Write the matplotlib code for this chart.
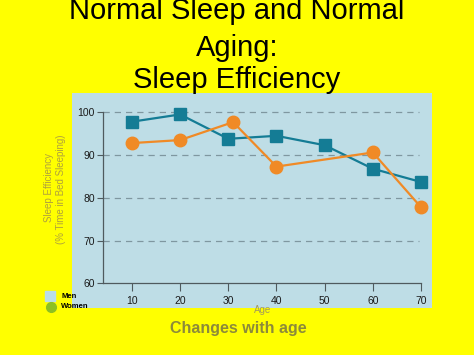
import matplotlib.pyplot as plt
from matplotlib.patches import Rectangle
from matplotlib.lines import Line2D

# Sleep efficiency (% time in bed sleeping) by age
men_age = [10, 20, 30, 40, 50, 60, 70]
men_eff = [97.8, 99.5, 93.8, 94.5, 92.3, 86.8, 83.7]
women_age = [10, 20, 31, 40, 60, 70]
women_eff = [92.8, 93.5, 97.7, 87.3, 90.6, 77.8]
x_ticks = [10, 20, 30, 40, 50, 60, 70]
y_ticks = [60, 70, 80, 90, 100]
title_lines = ['Normal Sleep and Normal', 'Aging:', 'Sleep Efficiency']

W, H = 474, 355
yellow = '#FFFF00'
panel = '#BEDDE6'
teal = '#147C95'
orange = '#F08A26'
olive = '#B0A23C'

plt.rcParams['font.family'] = ['Liberation Sans', 'DejaVu Sans']
narrow = ['Liberation Sans Narrow', 'Liberation Sans', 'DejaVu Sans']
fig = plt.figure(figsize=(W / 100, H / 100), dpi=100, facecolor=yellow)

# light blue chart panel
fig.patches.append(Rectangle((72 / W, 1 - 308 / H), 360 / W, 215 / H,
                             transform=fig.transFigure, facecolor=panel,
                             edgecolor='none', zorder=0))

ax = fig.add_axes([103 / W, 1 - 283.3 / H, 318 / W, 171 / H])
ax.set_zorder(2)
ax.set_facecolor('none')
ax.set_xlim(4, 70)
ax.set_ylim(60, 100)
for s in ['top', 'right']:
    ax.spines[s].set_visible(False)
for s in ['left', 'bottom']:
    ax.spines[s].set_color('#4f5a5e')
    ax.spines[s].set_linewidth(0.9)

for y in y_ticks[1:]:
    ax.plot([4, 69.5], [y, y], color='#7f97a0', lw=0.9,
            dashes=(5, 4), zorder=1, clip_on=False)

ax.plot(men_age, men_eff, color=teal, lw=1.6, marker='s', ms=8,
        mfc=teal, mec=teal, clip_on=False, zorder=3)
ax.plot(women_age, women_eff, color=orange, lw=1.6, marker='o', ms=9,
        mfc=orange, mec=orange, clip_on=False, zorder=3)

ax.set_xticks(x_ticks)
ax.set_yticks(y_ticks)
ax.tick_params(axis='x', length=6, direction='out', color='#4f5a5e',
               labelsize=7.5, labelcolor='#1a1a1a', pad=3)
ax.tick_params(axis='y', length=4, direction='out', color='#4f5a5e',
               labelsize=7.5, labelcolor='#1a1a1a', pad=2)

# title, one line at a time (baselines in pixels from top)
for line, base in zip(title_lines, [19, 56, 88]):
    fig.text(237 / W, 1 - base / H, line, fontsize=21, ha='center',
             va='baseline', color='black')

fig.text(49 / W, 1 - 187 / H, 'Sleep Efficiency', rotation=90,
         ha='center', va='center', fontsize=7, color=olive)
fig.text(61 / W, 1 - 189 / H, '(% Time in Bed Sleeping)', rotation=90,
         ha='center', va='center', fontsize=7, color=olive, family=narrow)
fig.text(263 / W, 1 - 310 / H, 'Age', ha='center', va='center',
         fontsize=7, color='#A39A5C')
fig.text(238 / W, 1 - 329 / H, 'Changes with age', ha='center',
         va='center', fontsize=11.5, fontweight='bold', color='#8C8A3A')

# legend
fig.add_artist(Line2D([50 / W], [1 - 296 / H], marker='s', ms=7,
                      color='#B9DEEA', transform=fig.transFigure))
fig.add_artist(Line2D([51 / W], [1 - 307 / H], marker='o', ms=7,
                      color='#8DC022', transform=fig.transFigure))
fig.text(61 / W, 1 - 296 / H, 'Men', ha='left', va='center',
         fontsize=5.5, fontweight='bold', color='black')
fig.text(61 / W, 1 - 307 / H, 'Women', ha='left', va='center',
         fontsize=5.5, fontweight='bold', color='black')

fig.savefig('out.png', dpi=100, facecolor=yellow)
